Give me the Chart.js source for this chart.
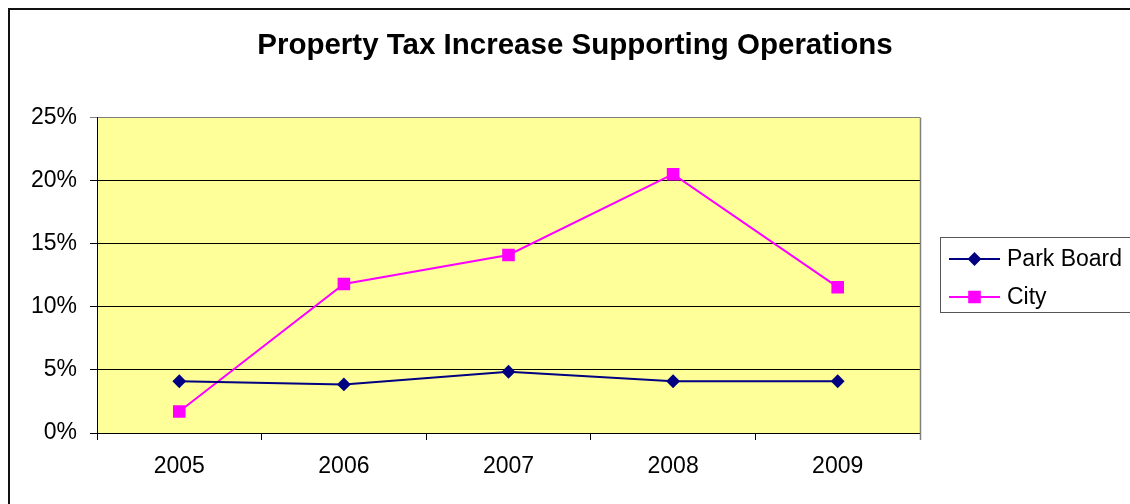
<!DOCTYPE html>
<html>
<head>
<meta charset="utf-8">
<script src="https://cdn.jsdelivr.net/npm/chart.js@4"></script>
<style>
  body { margin: 0; background: #fff; }
  canvas { display: block; }
</style>
</head>
<body>
<canvas id="line-chartcanvas" width="1130" height="504"></canvas>
<script>
// years on the category axis
var years = ["2005", "2006", "2007", "2008", "2009"];
// yearly property tax increase, percent
var parkBoard = [4.1, 3.85, 4.85, 4.1, 4.1];
var city = [1.7, 11.8, 14.1, 20.5, 11.55];
// value axis ticks
var yTicks = [0, 5, 10, 15, 20, 25];

var FONT = "'Liberation Sans', Arial, sans-serif";

// frame, right plot edge and boxed legend
var decor = {
	id: "decor",
	beforeDraw: function(chart) {
		var ctx = chart.ctx, a = chart.chartArea;
		ctx.save();
		ctx.fillStyle = "#ffff99";
		ctx.fillRect(a.left, a.top, a.right - a.left, a.bottom - a.top);
		ctx.restore();
	},
	afterDraw: function(chart) {
		var ctx = chart.ctx, a = chart.chartArea;
		ctx.save();
		// outer frame
		ctx.strokeStyle = "#111";
		ctx.lineWidth = 2;
		ctx.beginPath();
		ctx.moveTo(9, 504);
		ctx.lineTo(9, 9);
		ctx.lineTo(1130, 9);
		ctx.stroke();

		// right edge of plot
		ctx.strokeStyle = "#808080";
		ctx.lineWidth = 1.5;
		ctx.beginPath();
		ctx.moveTo(a.right + 0.5, a.top);
		ctx.lineTo(a.right + 0.5, a.bottom + 7);
		ctx.stroke();

		// legend box
		ctx.strokeStyle = "#555";
		ctx.lineWidth = 1;
		ctx.strokeRect(940.5, 237.5, 200, 75);
		ctx.font = "23px " + FONT;
		ctx.textBaseline = "middle";
		var rows = [259, 297];
		chart.data.datasets.forEach(function(ds, i) {
			var y = rows[i];
			ctx.strokeStyle = ds.borderColor;
			ctx.lineWidth = 2;
			ctx.beginPath();
			ctx.moveTo(949, y);
			ctx.lineTo(1000, y);
			ctx.stroke();
			ctx.fillStyle = ds.pointBackgroundColor;
			ctx.strokeStyle = ds.pointBorderColor;
			Chart.helpers.drawPoint(ctx, {
				pointStyle: ds.pointStyle,
				rotation: 0,
				radius: ds.pointRadius,
				borderWidth: 1
			}, 974.5, y);
			ctx.fillStyle = "#000";
			ctx.fillText(ds.label, 1007, y + 1);
		});
		ctx.restore();
	}
};

var data = {
	labels: years,
	datasets: [
		{
			label: "Park Board",
			data: parkBoard,
			borderColor: "#000080",
			backgroundColor: "#000080",
			pointBackgroundColor: "#000080",
			pointBorderColor: "#000080",
			borderWidth: 2,
			pointStyle: "rectRot",
			pointRadius: 5.5,
			fill: false,
			tension: 0
		},
		{
			label: "City",
			data: city,
			borderColor: "#ff00ff",
			backgroundColor: "#ff00ff",
			pointBackgroundColor: "#ff00ff",
			pointBorderColor: "#ff00ff",
			borderWidth: 2,
			pointStyle: "rect",
			pointRadius: 7.5,
			fill: false,
			tension: 0
		}
	]
};

var options = {
	responsive: false,
	animation: false,
	layout: { padding: { left: 20, right: 0, top: 0, bottom: 0 } },
	plugins: {
		legend: { display: false },
		tooltip: { enabled: false },
		title: {
			display: true,
			text: "Property Tax Increase Supporting Operations",
			color: "#000",
			font: { family: FONT, size: 29.5, weight: "bold", lineHeight: 1.2 },
			padding: { top: 28, bottom: 54 }
		}
	},
	scales: {
		x: {
			offset: true,
			grid: {
				offset: true,
				drawOnChartArea: false,
				drawTicks: true,
				tickLength: 7,
				color: "#000"
			},
			border: { color: "#000", width: 1 },
			ticks: {
				color: "#000",
				font: { family: FONT, size: 23 },
				padding: 13,
				maxRotation: 0
			},
			afterFit: function(s) { s.height = 71; }
		},
		y: {
			min: 0,
			max: 25,
			afterBuildTicks: function(s) {
				s.ticks = yTicks.map(function(v) { return { value: v }; });
			},
			grid: {
				color: function(c) { return c.tick && c.tick.value === 25 ? "#808080" : "#000"; },
				tickLength: 7,
				lineWidth: 1
			},
			border: { color: "#000", width: 1 },
			ticks: {
				color: "#000",
				font: { family: FONT, size: 23 },
				padding: 13,
				callback: function(v) { return v + "%"; }
			},
			afterFit: function(s) { s.width = 77; }
		},
		pad: {
			position: "right",
			display: true,
			grid: { display: false },
			border: { display: false },
			ticks: { display: false },
			afterFit: function(s) { s.width = 210; }
		}
	}
};

new Chart(document.getElementById("line-chartcanvas"), {
	type: "line",
	data: data,
	options: options,
	plugins: [decor]
});
</script>
</body>
</html>
